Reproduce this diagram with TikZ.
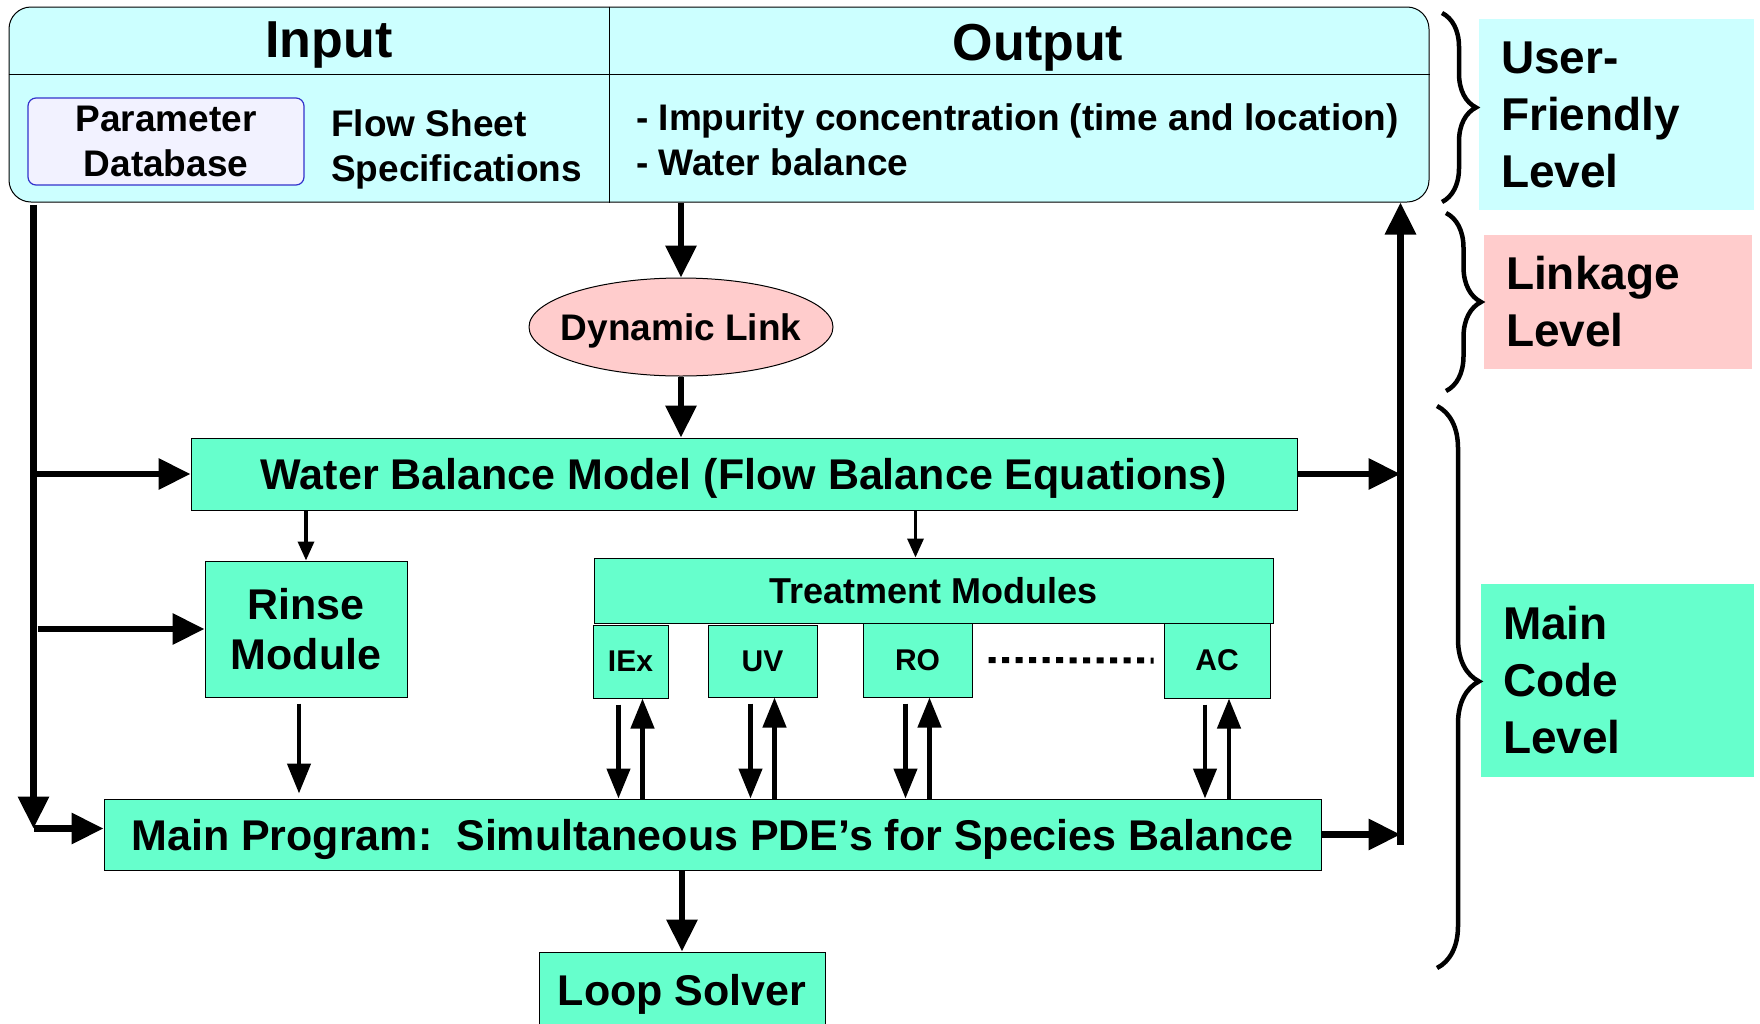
\documentclass[tikz,border=0pt]{standalone}
\usepackage{fontspec}
\setmainfont{Liberation Sans}
\usetikzlibrary{calc}
\usetikzlibrary{arrows.meta}
\usetikzlibrary{shapes.geometric}
\usetikzlibrary{decorations.pathreplacing}

\begin{document}
\begin{tikzpicture}[x=1pt,y=1pt,
  bigfont/.style={font=\fontsize{52}{60}\selectfont\bfseries,text depth=0pt},
  midfont/.style={font=\fontsize{37}{45}\selectfont\bfseries,text depth=0pt},
  boxfont/.style={font=\fontsize{43}{50}\selectfont\bfseries,text depth=0pt},
  unitfont/.style={font=\fontsize{30}{36}\selectfont\bfseries,text depth=0pt},
  sidefont/.style={font=\fontsize{46}{57}\selectfont\bfseries},
  box/.style={draw=black,line width=1pt,fill=codegreen,inner sep=0pt},
  levelbox/.style={sidefont,align=left,inner xsep=22pt,inner ysep=0pt,minimum width=0pt},
  fatarrow/.style={line width=6.5pt,-{Triangle[length=32pt,width=30pt]}},
  slimarrow/.style={line width=4.5pt,-{Triangle[length=30pt,width=23pt]}},
  thinarrow/.style={line width=3.4pt,-{Triangle[length=19pt,width=16pt]}},
  bracestyle/.style={decorate,line width=4.5pt},
  dotline/.style={line width=6pt,dash pattern=on 7pt off 6.5pt}]
\definecolor{userblue}{HTML}{CCFFFF}
\definecolor{linkpink}{HTML}{FFCCCC}
\definecolor{codegreen}{HTML}{66FFCC}
\definecolor{dblilac}{HTML}{F2F2FF}
\definecolor{dbedge}{HTML}{3333CC}

\useasboundingbox (0,0) rectangle (1760,-1023);

\node[draw=black,line width=1pt,fill=userblue,rounded corners=22pt,
  minimum width=1420pt,minimum height=195pt,inner sep=0pt] (top) at (719,-104.5) {};
\coordinate (split) at (609,0);
\draw[line width=1pt] ([yshift=-68pt]top.north west) -- ([yshift=-68pt]top.north east);
\draw[line width=1pt] (split |- top.north) -- (split |- top.south);

\node[bigfont] (input) at (329,-40) {Input};
\node[bigfont] (output) at (1038,-42) {Output};
\node[midfont,draw=dbedge,line width=1.2pt,fill=dblilac,rounded corners=8pt,align=center,
  minimum width=276pt,minimum height=87pt,inner sep=0pt] (db) at (166,-141.5) {Parameter\\Database};
\node[midfont,anchor=west,align=left,inner sep=0pt] (sheet) at (331,-145.5)
  {Flow Sheet\\Specifications};
\node[midfont,anchor=west,align=left,inner sep=0pt] (result) at (636,-139.5)
  {- Impurity concentration (time and location)\\- Water balance};

\node[ellipse,draw=black,line width=1pt,fill=linkpink,midfont,inner xsep=-14pt,inner ysep=0pt,
  minimum width=304pt,minimum height=98pt] (dl) at (681,-327) {Dynamic Link};

\node[box,boxfont,minimum width=1106pt,minimum height=72pt] (wb) at (744,-474)
  {Water Balance Model (Flow Balance Equations)};
\node[box,boxfont,align=center,minimum width=202pt,minimum height=136pt] (rinse) at (306,-629)
  {Rinse\\Module};
\node[box,font=\fontsize{36}{40}\selectfont\bfseries,text depth=0pt,minimum width=679pt,minimum height=65pt]
  (treat) at (933.5,-590.5) {Treatment Modules};
\foreach \name/\x/\y/\w/\h in {IEx/630.5/-661.5/75/73,UV/762.5/-661/109/72,
                              RO/917.5/-660/109/74,AC/1217/-660.5/106/75} {
  \node[box,unitfont,minimum width=\w*1pt,minimum height=\h*1pt] (\name) at (\x,\y) {\name};
}
\draw[dotline] ([xshift=16pt]RO.east) -- ([xshift=-10pt]AC.west);

\node[box,boxfont,minimum width=1217pt,minimum height=71pt] (main) at (712.5,-834.5)
  {Main Program:\ \ Simultaneous PDE’s for Species Balance};
\node[box,boxfont,minimum width=286pt,minimum height=76pt] (loop) at (682,-990) {Loop Solver};

\node[levelbox,fill=userblue,text width=231pt,minimum height=191pt] (user) at (1616.5,-114.5)
  {User-\\Friendly\\Level};
\node[levelbox,fill=linkpink,text width=224pt,minimum height=134pt] (link) at (1618,-302)
  {Linkage\\Level};
\node[levelbox,fill=codegreen,text width=229pt,minimum height=193pt] (code) at (1617.5,-680.5)
  {Main\\Code\\Level};

\draw[bracestyle,decoration={brace,amplitude=34pt,aspect=0.5}] (1442,-13) -- (1442,-202);
\draw[bracestyle,decoration={brace,amplitude=35pt,aspect=0.5}] (1446,-213) -- (1446,-391);
\draw[bracestyle,decoration={brace,amplitude=42pt,aspect=0.49}] (1437,-406) -- (1437,-968);

\draw[fatarrow] (top.south -| dl) -- (dl.north);
\draw[fatarrow] (dl.south) -- (wb.north -| dl);
\draw[thinarrow] (wb.south -| rinse) -- (rinse.north);
\coordinate (tmin) at ([xshift=-18pt]treat.north);
\draw[thinarrow] (wb.south -| tmin) -- (tmin);
\coordinate (rinseout) at ([xshift=-7pt,yshift=-6pt]rinse.south);
\draw[slimarrow] (rinseout) -- ([yshift=5pt]rinseout |- main.north);
\draw[fatarrow] (main.south -| loop) -- (loop.north);

\foreach \name in {IEx,UV,RO,AC} {
  \coordinate (dn) at ([xshift=-12pt,yshift=-6pt]\name.south);
  \coordinate (up) at ([xshift=12pt]\name.south);
  \draw[slimarrow] (dn) -- (dn |- main.north);
  \draw[slimarrow] (up |- main.north) -- (up);
}

\coordinate (ldown) at ([xshift=25pt,yshift=-2pt]top.south west);
\coordinate (lcorner) at ([yshift=6pt]ldown |- main.west);
\draw[fatarrow] (ldown) -- (lcorner);
\draw[fatarrow] (lcorner) -- (lcorner -| main.west);
\draw[fatarrow] (ldown |- wb.west) -- (wb.west);
\draw[fatarrow] ([xshift=4pt]ldown |- rinse.west) -- (rinse.west);

\coordinate (rup) at ([xshift=-29pt]top.south east);
\coordinate (rlow) at ($(rup |- main.east)+(0,-10)$);
\draw[fatarrow] (rlow) -- (rup);
\draw[fatarrow] (wb.east) -- (rup |- wb.east);
\draw[fatarrow] (main.east) -- (rup |- main.east);
\end{tikzpicture}
\end{document}
